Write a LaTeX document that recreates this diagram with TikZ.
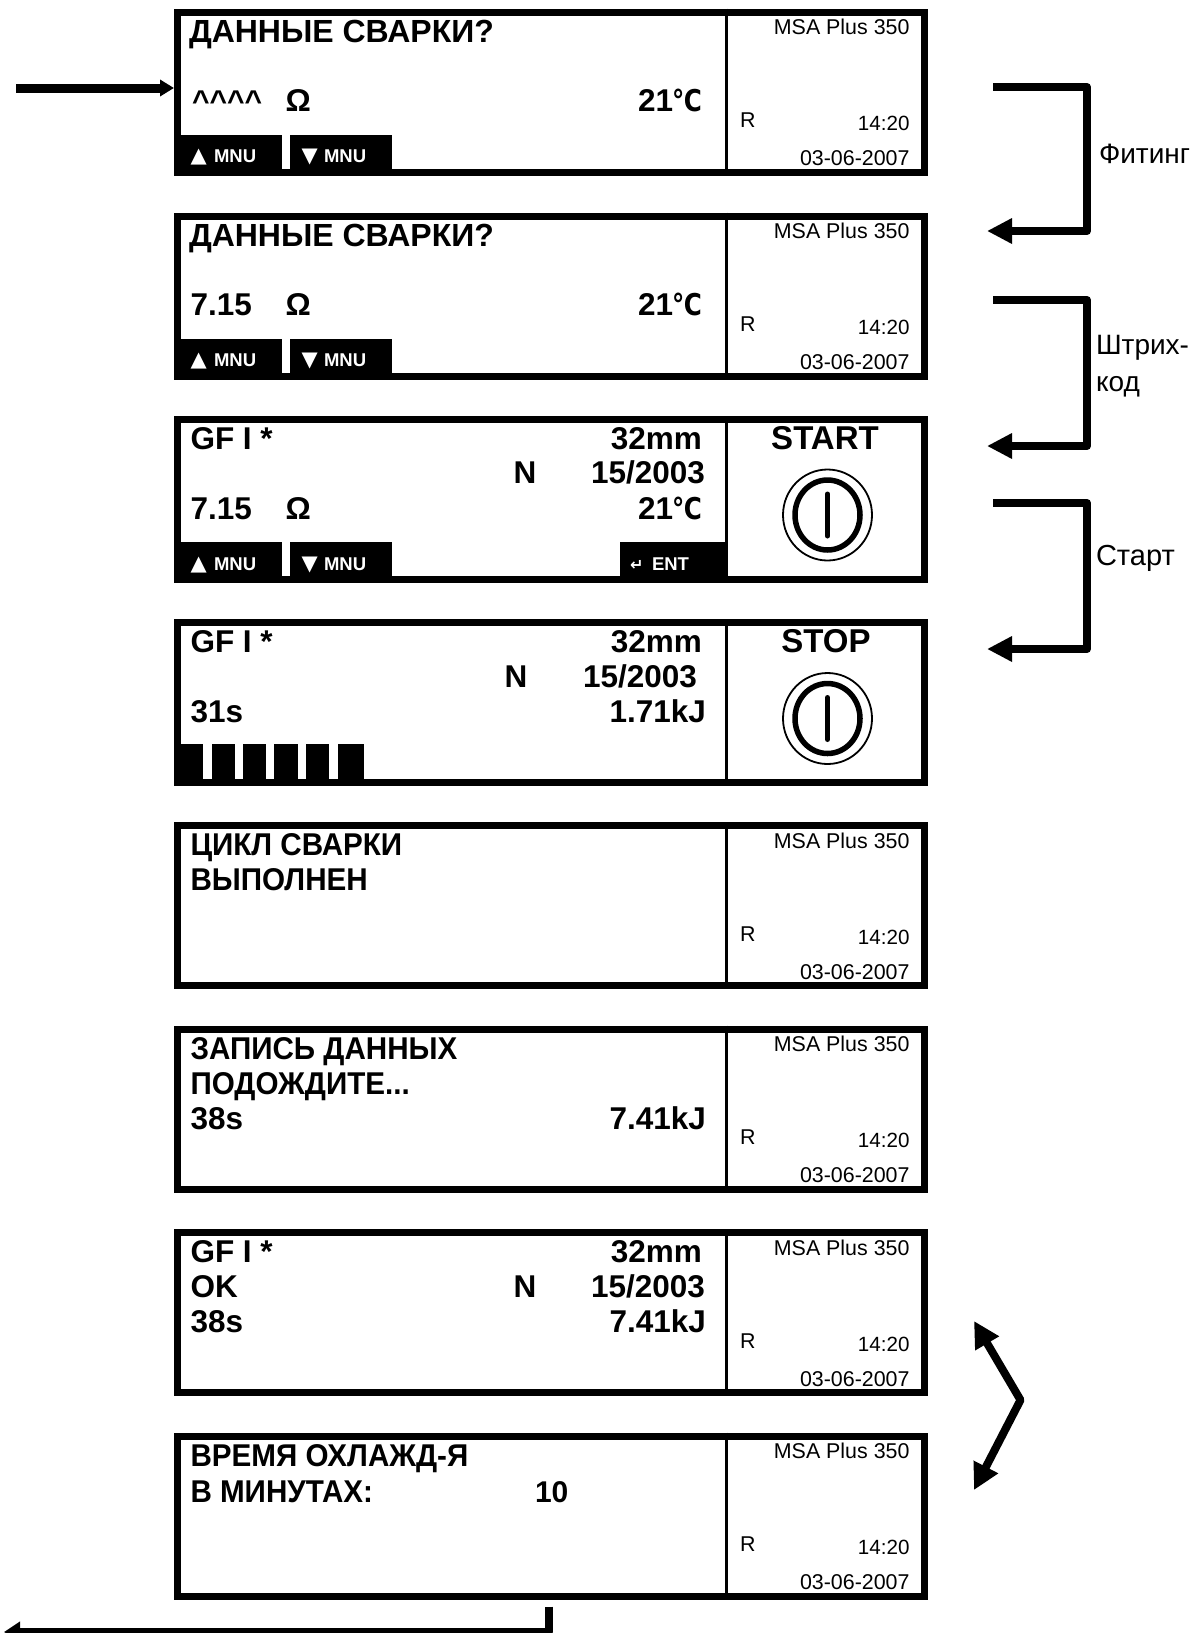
\documentclass[tikz,border=0pt]{standalone}
\usepackage{fontspec}
\setmainfont{Liberation Sans}
\newfontfamily\djv{DejaVu Sans}
\usetikzlibrary{arrows.meta}
\newcounter{tn}
\tikzset{
 x=1pt,y=-1pt,
 panelframe/.style={draw=black,line width=7pt,fill=white,minimum width=747pt,minimum height=160pt,inner sep=0pt,outer sep=0pt,anchor=north west},
 big/.style={inner sep=0pt,outer sep=0pt,font=\fontsize{31.5}{31.5}\selectfont\bfseries},
 small/.style={inner sep=0pt,outer sep=0pt,font=\fontsize{21.4}{21.4}\selectfont},
 lab/.style={inner sep=0pt,outer sep=0pt,font=\fontsize{28}{28}\selectfont,anchor=base west},
 key/.style={inner sep=0pt,outer sep=0pt,text=white,font=\fontsize{18.5}{18.5}\selectfont\bfseries,anchor=base west},
 conn/.style={draw=black,line width=8pt,line join=round},
 head/.style={-{Triangle[length=25pt,width=24pt]}},
 smallhead/.style={-{Triangle[length=14pt,width=16pt]}},
 ring/.style={draw=black,fill=none},
}
\newcommand{\tnext}{\stepcounter{tn}}
\newcommand{\cy}[1]{\scalebox{0.94}[1]{#1}}
\newcommand{\TL}[3]{\tnext\node[big,anchor=base west] (t\arabic{tn}) at (#1,#2) {#3};}
\newcommand{\TR}[3]{\tnext\node[big,anchor=base east] (t\arabic{tn}) at (#1,#2) {#3};}
\newcommand{\TC}[3]{\tnext\node[big,anchor=base] (t\arabic{tn}) at (#1,#2) {#3};}
\newcommand{\frameat}[2]{%
 \node[panelframe] (#1) at (177.5,#2+3.5) {};
 \draw[line width=3pt] (726,#2) -- (726,#2+166);
}
\newcommand{\status}[1]{%
 \tnext\node[small,anchor=base east] (t\arabic{tn}) at (909.5,#1+26) {MSA Plus 350};
 \tnext\node[small,anchor=base west] (t\arabic{tn}) at (740,#1+119) {R};
 \tnext\node[small,anchor=base east,font=\fontsize{20.6}{20.6}\selectfont] (t\arabic{tn}) at (909.5,#1+122) {14:20};
 \tnext\node[small,anchor=base east] (t\arabic{tn}) at (909.5,#1+157) {03-06-2007};
}
\newcommand{\keys}[1]{%
 \fill (174,#1+126) rectangle (282,#1+167);
 \fill (290,#1+126) rectangle (392,#1+167);
 \tnext\node[key] (t\arabic{tn}) at (190.5,#1+154) {{\djv\fontsize{21}{21}\selectfont ▲}};
 \tnext\node[key] (t\arabic{tn}) at (214,#1+154) {MNU};
 \tnext\node[key] (t\arabic{tn}) at (301.5,#1+154) {{\djv\fontsize{21}{21}\selectfont ▼}};
 \tnext\node[key] (t\arabic{tn}) at (324,#1+154) {MNU};
}
\newcommand{\power}[2]{%
 \draw[ring,line width=1.8pt] (#1,#2) ellipse [x radius=44.5pt,y radius=45.5pt];
 \draw[ring,line width=5.5pt] (#1,#2) ellipse [x radius=32.5pt,y radius=35pt];
 \draw[line width=5pt,line cap=round] (#1,#2-21) -- (#1,#2+21);
}
\newcommand{\degc}{{\djv\bfseries\fontsize{30}{30}\selectfont\scalebox{0.82}[1]{℃}}}
\begin{document}
\begin{tikzpicture}
\useasboundingbox (0,0) rectangle (1196,1633);
\fill[white] (0,0) rectangle (1196,1633);

% panel 1
\def\y{8.5}
\frameat{p1}{\y}\status{\y}\keys{\y}
\TL{189}{\y+33.5}{\fontsize{32}{32}\selectfont ДАННЫЕ СВАРКИ?}
\TL{192}{\y+103}{\fontsize{30}{30}\selectfont\^{}\^{}\^{}\^{}}
\TL{285.5}{\y+103}{Ω}
\TR{702}{\y+103}{21\kern-1pt\degc}

% panel 2
\def\y{212.5}
\frameat{p2}{\y}\status{\y}\keys{\y}
\TL{189}{\y+33.5}{\fontsize{32}{32}\selectfont ДАННЫЕ СВАРКИ?}
\TL{190.5}{\y+103}{7.15}
\TL{285.5}{\y+103}{Ω}
\TR{702}{\y+103}{21\kern-1pt\degc}

% panel 3
\def\y{416}
\frameat{p3}{\y}\keys{\y}
\fill (620,\y+126) rectangle (727,\y+167);
\tnext\node[key] (t\arabic{tn}) at (630,\y+154) {{\djv\bfseries\fontsize{16}{16}\selectfont ↵}};
\tnext\node[key] (t\arabic{tn}) at (652,\y+154) {ENT};
\TL{190.5}{\y+33}{GF I *}
\TR{702}{\y+33}{32mm}
\TC{525}{\y+67.5}{N}
\TR{705}{\y+67.5}{15/2003}
\TL{190.5}{\y+103}{7.15}
\TL{285.5}{\y+103}{Ω}
\TR{702}{\y+103}{21\kern-1pt\degc}
\TC{825}{\y+33}{\fontsize{33}{33}\selectfont START}
\power{827.5}{515}

% panel 4
\def\y{619}
\frameat{p4}{\y}
\fill (174,\y+125) rectangle (202.5,\y+167);
\fill (212,\y+125) rectangle (235,\y+167);
\fill (243,\y+125) rectangle (266,\y+167);
\fill (274,\y+125) rectangle (298,\y+167);
\fill (306,\y+125) rectangle (329,\y+167);
\fill (338,\y+125) rectangle (364,\y+167);
\TL{190.5}{\y+33}{GF I *}
\TR{702}{\y+33}{32mm}
\TC{516}{\y+68.5}{N}
\TR{697}{\y+68.5}{15/2003}
\TL{190.5}{\y+103.5}{31s}
\TR{706}{\y+103.5}{1.71kJ}
\TC{826}{\y+33}{\fontsize{33}{33}\selectfont STOP}
\power{827.5}{718.5}

% panel 5
\def\y{822}
\frameat{p5}{\y}\status{\y}
\TL{190.5}{\y+33.5}{\cy{ЦИКЛ СВАРКИ}}
\TL{190.5}{\y+68.5}{\cy{ВЫПОЛНЕН}}

% panel 6
\def\y{1025.5}
\frameat{p6}{\y}\status{\y}
\TL{190.5}{\y+33.5}{\cy{ЗАПИСЬ ДАННЫХ}}
\TL{190.5}{\y+68.5}{\cy{ПОДОЖДИТЕ...}}
\TL{190.5}{\y+103.5}{38s}
\TR{706}{\y+103.5}{7.41kJ}

% panel 7
\def\y{1229}
\frameat{p7}{\y}\status{\y}
\TL{190.5}{\y+33}{GF I *}
\TR{702}{\y+33}{32mm}
\TL{190.5}{\y+68}{OK}
\TC{525}{\y+68}{N}
\TR{705}{\y+68}{15/2003}
\TL{190.5}{\y+103.5}{38s}
\TR{706}{\y+103.5}{7.41kJ}

% panel 8
\def\y{1432.5}
\frameat{p8}{\y}\status{\y}
\TL{190.5}{\y+33.5}{\cy{ВРЕМЯ ОХЛАЖД-Я}}
\TL{190.5}{\y+70}{\cy{В МИНУТАХ:}}
\TL{535}{\y+70}{\fontsize{30}{30}\selectfont 10}

% connectors
\coordinate (inS) at (16,88);
\draw[conn,line width=9pt,smallhead] (inS) -- ([xshift=-3.5pt]p1.west |- inS);

\coordinate (a1) at (993,87);
\coordinate (a1c) at (1087,87);
\coordinate (a1d) at (1087,231);
\coordinate (a1e) at (987,231);
\draw[conn,head] (a1) -- (a1c) -- (a1d) -- (a1e);

\coordinate (a2) at (993,300);
\coordinate (a2c) at (1087,300);
\coordinate (a2d) at (1087,446);
\coordinate (a2e) at (987,446);
\draw[conn,head] (a2) -- (a2c) -- (a2d) -- (a2e);

\coordinate (a3) at (993,503);
\coordinate (a3c) at (1087,503);
\coordinate (a3d) at (1087,649);
\coordinate (a3e) at (987,649);
\draw[conn,head] (a3) -- (a3c) -- (a3d) -- (a3e);

\coordinate (b1) at (974,1321);
\coordinate (b2) at (1020.5,1400);
\coordinate (b3) at (974,1490);
\draw[conn,{Triangle[length=26pt,width=26pt]}-{Triangle[length=26pt,width=26pt]}] (b1) -- (b2) -- (b3);

\coordinate (c1) at (548.5,1606.5);
\coordinate (c2) at (548.5,1632);
\coordinate (c3) at (4,1632);
\draw[conn,-{Triangle[length=16pt,width=20pt]}] (c1) -- (c2) -- (c3);

% labels
\node[lab] (l1) at (1099,163) {Фитинг};
\node[lab] (l2) at (1096,354) {Штрих-};
\node[lab] (l3) at (1096,391) {код};
\node[lab,font=\fontsize{29}{29}\selectfont] (l4) at (1096,565) {Старт};
\end{tikzpicture}
\end{document}
